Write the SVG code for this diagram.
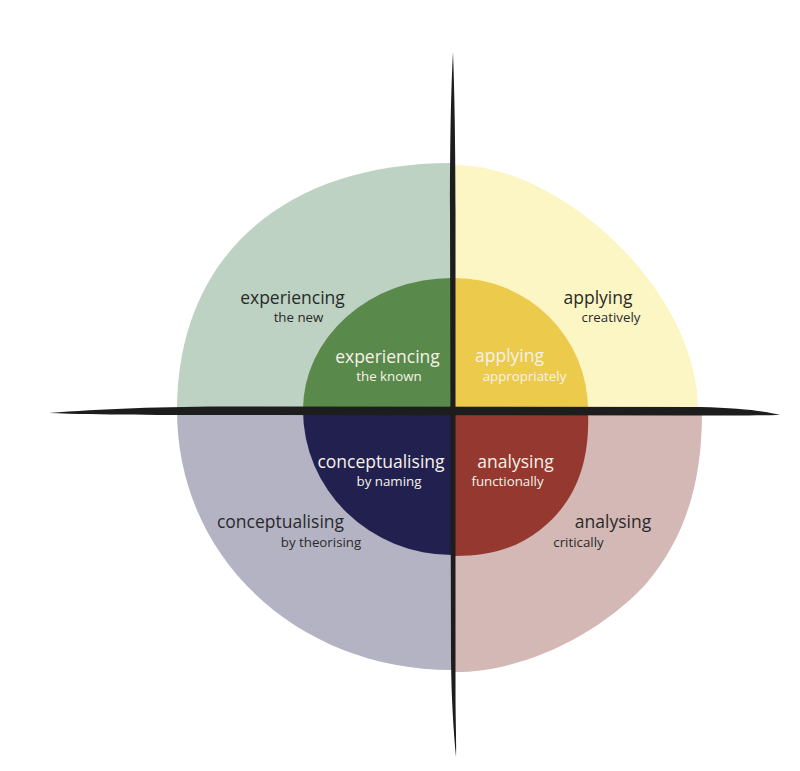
<svg xmlns="http://www.w3.org/2000/svg" width="800" height="771" viewBox="0 0 800 771">
  <style>
    text { font-family: "Open Sans", "Liberation Sans", sans-serif; text-anchor: middle; font-weight: 500; }
    .main { font-size: 17.5px; }
    .sub { font-size: 13.3px; }
    .dark { fill: #2a2a2a; }
    .light { fill: #f6f2e8; }
    .axis { fill: #1d1d1d; }
  </style>
  <rect width="800" height="771" fill="#ffffff"/>

  <g id="experiencing-new">
    <path d="M452,410 L177,410 C177,260 280,163 452,163 Z" fill="#bdd2c2"/>
    <text class="main dark" x="292.5" y="304">experiencing</text>
    <text class="sub dark" x="298.5" y="322">the new</text>
  </g>
  <g id="applying-creatively">
    <path d="M455,410 L455,165 C560,165 698,290 698,410 Z" fill="#fcf5c4"/>
    <text class="main dark" x="598" y="304">applying</text>
    <text class="sub dark" x="611" y="322">creatively</text>
  </g>
  <g id="conceptualising-theorising">
    <path d="M452,410 L177,410 C177,560 300,670 452,670 Z" fill="#b4b3c4"/>
    <text class="main dark" x="280.5" y="528">conceptualising</text>
    <text class="sub dark" x="321" y="547">by theorising</text>
  </g>
  <g id="analysing-critically">
    <path d="M455,410 L702,410 C702,470 692,530 645,585 C595,638 520,672 455,672 Z" fill="#d3b8b5"/>
    <text class="main dark" x="613" y="528">analysing</text>
    <text class="sub dark" x="578.5" y="547">critically</text>
  </g>

  <g id="experiencing-known">
    <path d="M452,410 L303,410 A149,132 0 0 1 452,278 Z" fill="#5a894c"/>
    <text class="main light" x="387.5" y="363">experiencing</text>
    <text class="sub light" x="389" y="381">the known</text>
  </g>
  <g id="applying-appropriately">
    <path d="M455,410 L455,278 A133,132 0 0 1 588,410 Z" fill="#ecca4c"/>
    <text class="main light" x="509.5" y="362">applying</text>
    <text class="sub light" x="524.5" y="381">appropriately</text>
  </g>
  <g id="conceptualising-naming">
    <path d="M452,410 L303,410 A149,145 0 0 0 452,555 Z" fill="#22204f"/>
    <text class="main light" x="381" y="468">conceptualising</text>
    <text class="sub light" x="389" y="486">by naming</text>
  </g>
  <g id="analysing-functionally">
    <path d="M455,410 L588,410 C590,460 578,500 540,530 C515,550 485,556 455,556 Z" fill="#943830"/>
    <text class="main light" x="515.5" y="468">analysing</text>
    <text class="sub light" x="507.5" y="486">functionally</text>
  </g>

  <g id="connectors">
    <path class="axis" d="M49,413 C100,409 160,406.5 240,406.5 L700,407 C740,408 765,411 780,415 C760,415.5 730,415.5 690,415.5 L240,415 C160,415 100,415 49,413 Z"/>
    <path class="axis" d="M453,52 C454.5,90 455.5,150 455.5,210 L455.5,690 C455.5,720 456.5,740 456,757 C453.5,730 451.5,700 451,660 L450,210 C450,140 451,90 453,52 Z"/>
  </g>
</svg>
